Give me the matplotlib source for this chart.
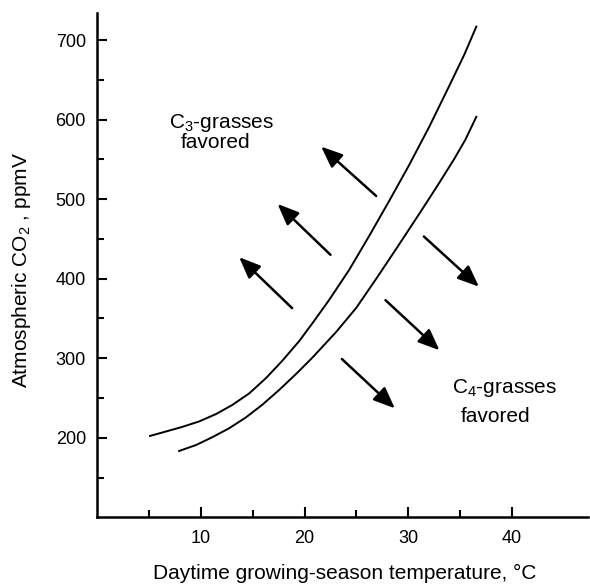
import matplotlib
matplotlib.use("Agg")
import matplotlib.pyplot as plt

plt.rcParams["font.family"] = ["Liberation Sans", "DejaVu Sans"]
plt.rcParams["mathtext.fontset"] = "custom"
plt.rcParams["mathtext.rm"] = "Liberation Sans"
plt.rcParams["mathtext.it"] = "Liberation Sans:italic"

# boundary curves (temperature degC, CO2 ppmV)
upper_temp = [5.11, 6.65, 8.20, 9.84, 11.48, 13.02, 14.66, 16.30, 17.84, 19.50,
              20.92, 22.37, 24.30, 26.23, 28.16, 30.09, 32.02, 33.95, 35.39, 36.55]
upper_co2 = [202.3, 207.9, 213.6, 220.5, 229.9, 241.1, 255.7, 275.2, 296.6, 321.8,
             346.9, 373.3, 411.1, 453.8, 497.9, 543.2, 591.1, 642.6, 681.6, 716.9]
lower_temp = [7.91, 9.55, 11.09, 12.73, 14.37, 15.91, 17.55, 19.19, 20.73,
              23.05, 24.98, 26.90, 28.83, 31.05, 32.98, 34.43, 35.49, 36.55]
lower_co2 = [183.4, 190.9, 200.6, 211.9, 225.8, 241.3, 260.1, 280.3, 300.4,
             333.1, 363.3, 399.8, 437.5, 481.5, 520.5, 550.7, 574.6, 603.5]

# arrows: (tail_x, tail_y, head_x, head_y)
c3_arrows = [(18.8, 363, 13.7, 427),
             (22.5, 430, 17.4, 494),
             (26.9, 504, 21.6, 566)]
c4_arrows = [(31.5, 453, 36.8, 390),
             (27.8, 373, 33.0, 310),
             (23.6, 299, 28.7, 237)]

x_major = [10, 20, 30, 40]
x_minor = [5, 15, 25, 35]
y_major = [200, 300, 400, 500, 600, 700]
y_minor = [150, 250, 350, 450, 550, 650]

fig = plt.figure(figsize=(5.9, 5.84), dpi=100)
ax = fig.add_axes([0.1644, 0.1142, 0.832, 0.8635])

ax.plot(upper_temp, upper_co2, color="black", lw=1.4, solid_joinstyle="round")
ax.plot(lower_temp, lower_co2, color="black", lw=1.4, solid_joinstyle="round")

for tx, ty, hx, hy in c3_arrows + c4_arrows:
    ax.annotate("", xy=(hx, hy), xytext=(tx, ty),
                arrowprops=dict(arrowstyle="-|>,head_length=0.65,head_width=0.27",
                                lw=1.8, color="black", mutation_scale=20,
                                shrinkA=0, shrinkB=0))

ax.text(6.94, 589.7, r"C$_3$-grasses", fontsize=15, va="baseline", ha="left")
ax.text(8.1, 564.5, "favored", fontsize=15, va="baseline", ha="left")
ax.text(34.17, 256, r"C$_4$-grasses", fontsize=15, va="baseline", ha="left")
ax.text(35.07, 220.3, "favored", fontsize=15, va="baseline", ha="left")

ax.set_xlim(0, 47.3)
ax.set_ylim(100, 734)
ax.set_xticks(x_major)
ax.set_xticks(x_minor, minor=True)
ax.set_yticks(y_major)
ax.set_yticks(y_minor, minor=True)
ax.tick_params(which="both", direction="in", width=1.5, labelsize=13)
ax.tick_params(which="major", length=7)
ax.tick_params(which="minor", length=5)
ax.tick_params(axis="x", pad=9)
ax.tick_params(axis="y", pad=8)

for side in ["top", "right"]:
    ax.spines[side].set_visible(False)
for side in ["left", "bottom"]:
    ax.spines[side].set_linewidth(1.8)

fig.text(345 / 590, 1 - 573 / 584, "Daytime growing-season temperature, \u00b0C",
         fontsize=15, ha="center", va="center")
fig.text(22 / 590, 1 - 270 / 584, r"Atmospheric CO$_2$ , ppmV",
         fontsize=15, ha="center", va="center", rotation=90)

fig.savefig("out.png", dpi=100)
